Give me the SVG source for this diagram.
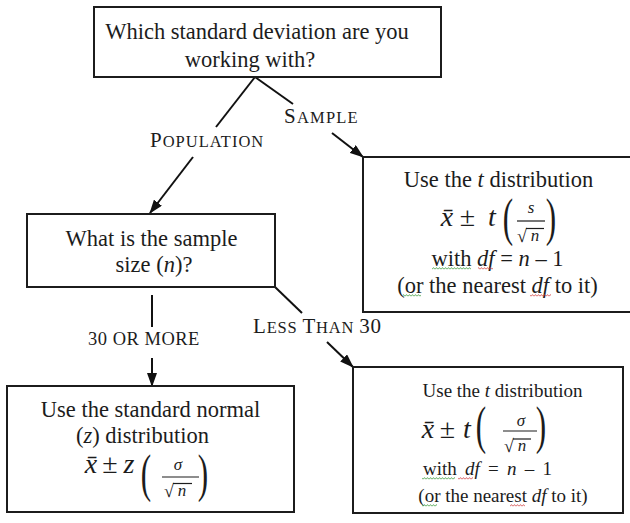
<svg xmlns="http://www.w3.org/2000/svg" width="630" height="523" viewBox="0 0 630 523">
<style>
  text { font-family: "Liberation Serif", "Times New Roman", serif; fill: #1c1c1c; }
  .t { font-size: 22.5px; text-anchor: middle; }
  .s { font-size: 19px; text-anchor: middle; }
  .i { font-style: italic; }
  .box { fill: #fff; stroke: #1c1c1c; stroke-width: 2; }
  .ln { stroke: #111; stroke-width: 2; fill: none; }
  .arr { marker-end: url(#ah); }
  .lab { font-size: 16.5px; }
  .big { font-size: 21px; }
  .m { font-size: 28px; font-style: italic; text-anchor: middle; }
  .op { font-size: 28px; text-anchor: middle; }
  .par { font-size: 52px; text-anchor: middle; }
  .fr { font-size: 17px; font-style: italic; text-anchor: middle; }
  .rad { font-size: 18px; }
  .bar { stroke: #1c1c1c; stroke-width: 1.2; }
</style>
<defs>
  <marker id="ah" viewBox="0 0 14 10" refX="13" refY="5" markerWidth="14" markerHeight="10" markerUnits="userSpaceOnUse" orient="auto">
    <path d="M0,0 L14,5 L0,10 Z" fill="#111"/>
  </marker>
  <pattern id="sqG" width="3" height="3" patternUnits="userSpaceOnUse">
    <path d="M0,2.4 L1.5,0.6 L3,2.4" stroke="#3a9a3a" stroke-width="0.8" fill="none"/>
  </pattern>
  <pattern id="sqR" width="3" height="3" patternUnits="userSpaceOnUse">
    <path d="M0,2.4 L1.5,0.6 L3,2.4" stroke="#d04040" stroke-width="0.8" fill="none"/>
  </pattern>
</defs>
<rect width="630" height="523" fill="#fff"/>

<g id="connectors">
  <line class="ln" x1="255" y1="77" x2="216" y2="127"/>
  <line class="ln arr" x1="193" y1="157" x2="150" y2="213"/>
  <line class="ln" x1="255" y1="77" x2="293" y2="104"/>
  <line class="ln arr" x1="332" y1="133" x2="363" y2="157"/>
  <line class="ln" x1="152" y1="295" x2="152" y2="327"/>
  <line class="ln arr" x1="152" y1="358" x2="152" y2="386"/>
  <line class="ln" x1="275" y1="287" x2="302" y2="313"/>
  <line class="ln arr" x1="327" y1="342" x2="353" y2="367"/>
  <text x="150" y="147" letter-spacing="1"><tspan class="big">P</tspan><tspan class="lab">OPULATION</tspan></text>
  <text x="284" y="123" letter-spacing="1.2"><tspan class="big">S</tspan><tspan class="lab">AMPLE</tspan></text>
  <text x="88" y="345" font-size="18.5" letter-spacing="0.5">30 OR MORE</text>
  <text x="253" y="333" letter-spacing="0.8"><tspan class="big">L</tspan><tspan class="lab">ESS </tspan><tspan class="big">T</tspan><tspan class="lab">HAN </tspan><tspan class="big">30</tspan></text>
</g>

<g id="q1">
  <rect class="box" x="94" y="7" width="347" height="70"/>
  <text class="t" x="257" y="39">Which standard deviation are you</text>
  <text class="t" x="250" y="67">working with?</text>
</g>

<g id="q2">
  <rect class="box" x="27" y="214" width="248" height="73"/>
  <text class="t" x="151.5" y="246">What is the sample</text>
  <text class="t" x="154" y="272">size (<tspan class="i">n</tspan>)?</text>
</g>

<g id="sample-t">
  <rect class="box" x="363" y="157" width="270" height="155"/>
  <text class="t" x="498.5" y="187">Use the <tspan class="i">t</tspan> distribution</text>
  <text class="m" x="447" y="226">x̄</text>
  <text class="op" x="467.5" y="226">±</text>
  <text class="m" x="492" y="226">t</text>
  <text class="par" transform="translate(508,235) scale(0.6,1)">(</text>
  <text class="fr" x="531" y="213">s</text>
  <line class="bar" x1="517" y1="221" x2="545" y2="221"/>
  <text class="rad" x="517" y="242">√</text>
  <line class="bar" x1="526" y1="228.5" x2="544" y2="228.5"/>
  <text class="fr" x="535" y="241" font-size="19">n</text>
  <text class="par" transform="translate(551,235) scale(0.6,1)">)</text>
  <text class="t" x="497.5" y="266">with <tspan class="i">df</tspan> = <tspan class="i">n</tspan> – 1</text>
  <text class="t" x="497.5" y="293">(or the nearest <tspan class="i">df</tspan> to it)</text>
  <rect x="432" y="267" width="39" height="3" fill="url(#sqG)"/>
  <rect x="478" y="267" width="15" height="3" fill="url(#sqR)"/>
  <rect x="403" y="294" width="18" height="3" fill="url(#sqG)"/>
  <rect x="530" y="294" width="21" height="3" fill="url(#sqR)"/>
</g>

<g id="normal-z">
  <rect class="box" x="7" y="386" width="287" height="126"/>
  <text class="t" x="150.5" y="417">Use the standard normal</text>
  <text class="t" x="142.5" y="443">(<tspan class="i">z</tspan>) distribution</text>
  <text class="m" x="91" y="473">x̄</text>
  <text class="op" x="110" y="473">±</text>
  <text class="m" x="129" y="473">z</text>
  <text class="par" transform="translate(146,491) scale(0.6,1)">(</text>
  <text class="fr" x="178" y="470">σ</text>
  <line class="bar" x1="162" y1="477" x2="199" y2="477"/>
  <text class="rad" x="164" y="497">√</text>
  <line class="bar" x1="173" y1="483.5" x2="192" y2="483.5"/>
  <text class="fr" x="182" y="496" font-size="19">n</text>
  <text class="par" transform="translate(203,491) scale(0.6,1)">)</text>
</g>

<g id="small-t">
  <rect class="box" x="353" y="367" width="270" height="146"/>
  <text class="s" x="502.5" y="397">Use the <tspan class="i">t</tspan> distribution</text>
  <text class="m" x="428" y="438" font-size="26">x̄</text>
  <text class="op" x="447.5" y="438" font-size="26">±</text>
  <text class="m" x="467" y="438" font-size="26">t</text>
  <text class="par" font-size="47" transform="translate(481,443) scale(0.6,1)">(</text>
  <text class="fr" x="521" y="426" font-size="16">σ</text>
  <line class="bar" x1="503" y1="431" x2="537" y2="431"/>
  <text class="rad" x="504" y="452" font-size="17">√</text>
  <line class="bar" x1="513" y1="439" x2="531" y2="439"/>
  <text class="fr" x="522" y="451" font-size="18">n</text>
  <text class="par" font-size="47" transform="translate(541,443) scale(0.6,1)">)</text>
  <text class="s" x="487.5" y="475" word-spacing="3.5">with <tspan class="i">df</tspan> = <tspan class="i">n</tspan> – 1</text>
  <text class="s" x="503" y="502">(or the nearest <tspan class="i">df</tspan> to it)</text>
  <rect x="422" y="477" width="33" height="3" fill="url(#sqG)"/>
  <rect x="458" y="477" width="15" height="3" fill="url(#sqR)"/>
  <rect x="422" y="504" width="15" height="3" fill="url(#sqG)"/>
  <rect x="510" y="504" width="15" height="3" fill="url(#sqR)"/>
</g>
</svg>
